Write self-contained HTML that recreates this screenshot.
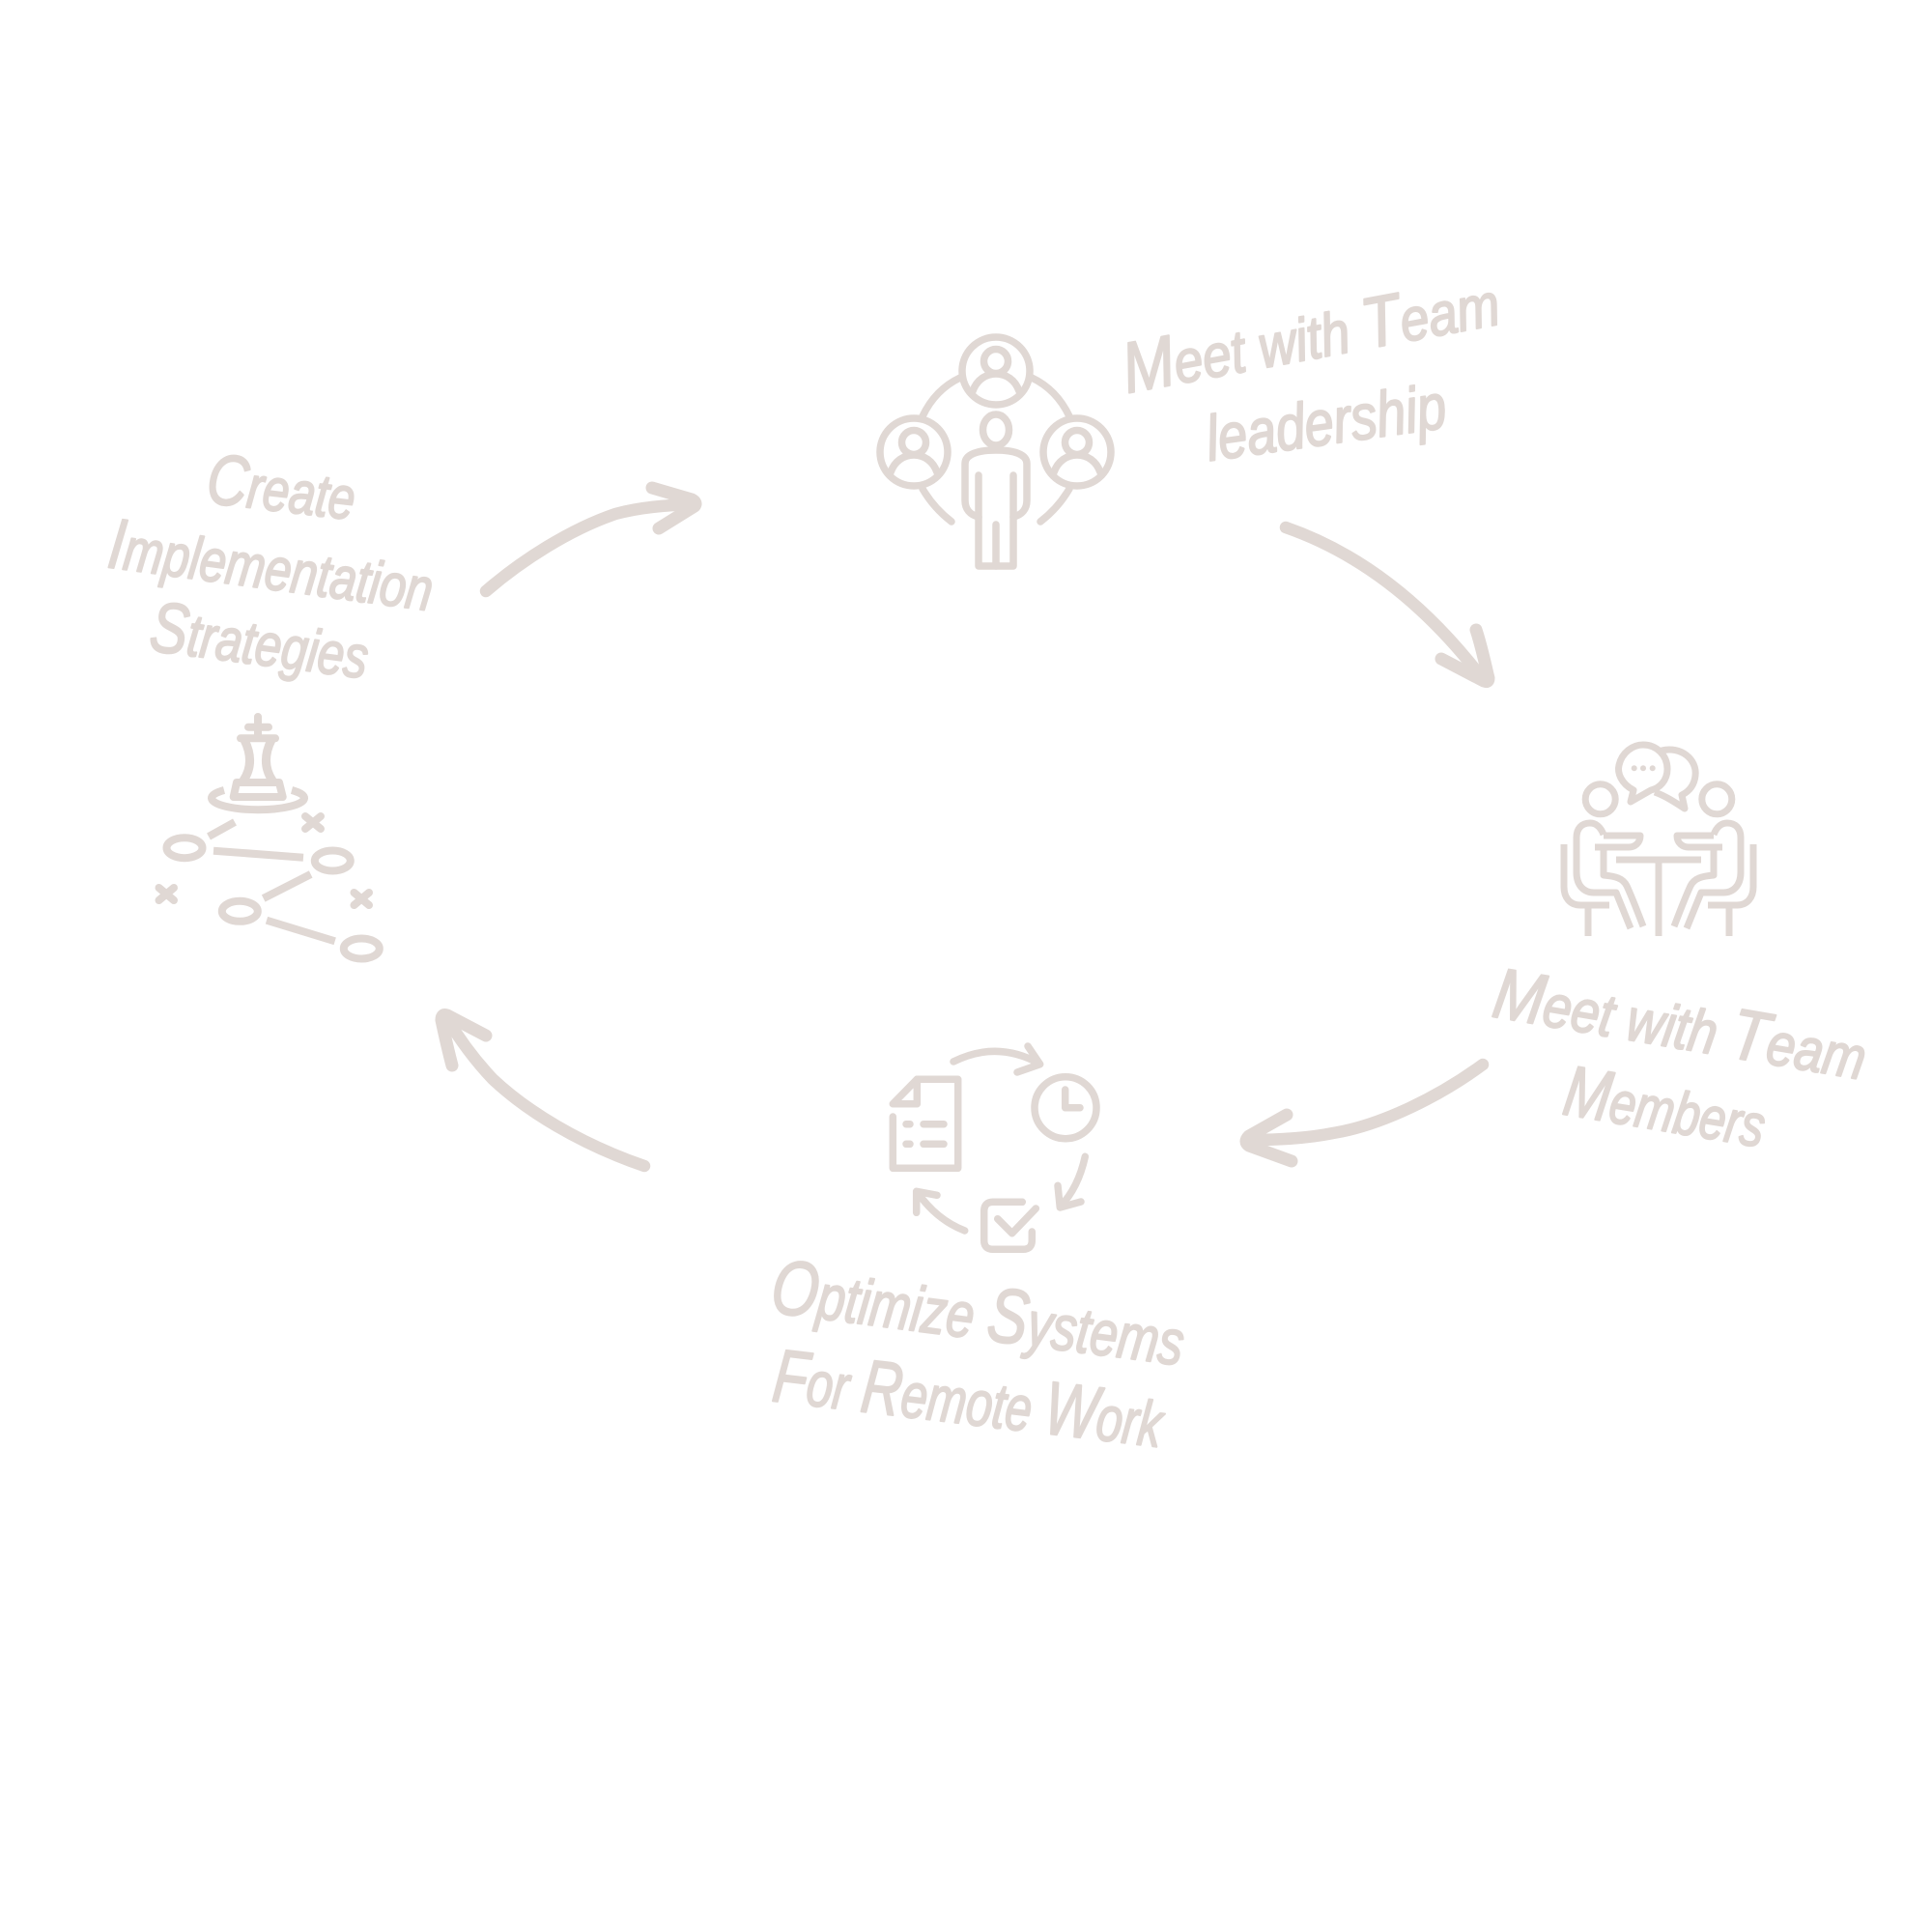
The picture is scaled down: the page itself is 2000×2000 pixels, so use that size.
<!DOCTYPE html>
<html><head><meta charset="utf-8"><style>
html,body{margin:0;padding:0;background:#fff;width:2000px;height:2000px;overflow:hidden}
svg{display:block}
text{font-family:"Liberation Sans",sans-serif;font-style:italic;fill:#e0d8d4;stroke:#e0d8d4;stroke-width:2;stroke-linejoin:round}
tspan.c{font-size:74px}
.i{fill:none;stroke:#e0d8d4;stroke-linecap:round;stroke-linejoin:round}
</style></head><body>
<svg width="2000" height="2000" viewBox="0 0 2000 2000" xmlns="http://www.w3.org/2000/svg">
<rect width="2000" height="2000" fill="#fff"/>

<!-- main arrows -->
<g class="i" stroke-width="12.5">
<path d="M503,612 C540,580 590,548 637,532 C663,525 690,523 717,522"/>
<path d="M675,505 L716,517 Q722,520 719,524 L682,547" stroke-width="13"/>
<path d="M1331,546 C1400,570 1470,618 1535,703"/>
<path d="M1528,652 C1534,670 1538,690 1541,702 Q1541,707 1536,705 L1492,682" stroke-width="13"/>
<path d="M1535,1102 C1490,1135 1430,1165 1380,1173 C1350,1179 1320,1180 1292,1180"/>
<path d="M1332,1154 L1293,1176 Q1287,1182 1293,1186 L1337,1202" stroke-width="13"/>
<path d="M667,1207 C600,1184 545,1150 510,1117 C492,1098 475,1075 462,1053"/>
<path d="M468,1103 C464,1088 460,1070 457,1056 Q457,1049 463,1051 L503,1072" stroke-width="13"/>
</g>

<!-- icon 1 -->
<g class="i" stroke-width="7.5">
<circle cx="1031" cy="384" r="35"/>
<circle cx="946" cy="468" r="35"/>
<circle cx="1115" cy="468" r="35"/>
<circle cx="1031" cy="374" r="12.5"/>
<circle cx="946" cy="458" r="12.5"/>
<circle cx="1115" cy="458" r="12.5"/>
<path d="M1007,405 C1011,393 1021,387 1031,387 C1041,387 1051,393 1055,405"/>
<path d="M922,489 C926,477 936,471 946,471 C956,471 966,477 970,489"/>
<path d="M1091,489 C1095,477 1105,471 1115,471 C1125,471 1135,477 1139,489"/>
<path d="M955,431 C964,412 977,399 994,391 M1107,431 C1098,412 1085,399 1068,391"/>
<path d="M955,506 C962,518 972,530 985,540 M1107,506 C1100,518 1090,530 1077,540"/>
<ellipse cx="1031" cy="445" rx="13.5" ry="16"/>
<path d="M1013,535 C1004,533 999,527 999,518 L999,480 C999,470 1013,466 1031,466 C1049,466 1063,470 1063,480 L1063,518 C1063,527 1058,533 1049,535"/>
<path d="M1013,492 L1013,586 L1049,586 L1049,492"/>
<path d="M1031,543 L1031,586"/>
</g>

<!-- icon 2 -->
<g fill="none" stroke="#e0d8d4" stroke-width="7" stroke-linejoin="round">
<circle cx="1656.7" cy="827.3" r="15.5"/>
<circle cx="1777.3" cy="827.3" r="15.5"/>
<path d="M1691,818 C1678,811 1674,800 1676,792 C1679,779 1690,771 1701,771 C1715,771 1726,782 1726,796 C1726,808 1718,816 1709,818 L1688,830 Z"/>
<path d="M1720,777 C1740,772 1757,786 1755,803 C1754,812 1749,819 1741,823 L1744,837 C1733,830 1724,824 1713,820"/>
<circle cx="1691.7" cy="795.3" r="3" fill="#e0d8d4" stroke="none"/>
<circle cx="1701" cy="795.3" r="3" fill="#e0d8d4" stroke="none"/>
<circle cx="1710.7" cy="795.3" r="3" fill="#e0d8d4" stroke="none"/>
<g>
<path d="M1660,864 C1657,856 1652,852 1646,852 C1637,852 1632,858 1632,867 L1632,903 C1632,917 1640,924 1650,924 L1673,924 L1688,961"/>
<path d="M1660,865 L1698,865 C1698,873 1692,877 1686,877 L1651,877"/>
<path d="M1660,877 L1660,906 C1672,907 1680,909 1684,917 C1690,930 1696,946 1701,959"/>
<path d="M1619,874 L1619,918 C1619,929 1625,937 1636,937 L1666,937"/>
<path d="M1644,937 L1644,969"/>
</g>
<g transform="translate(3434,0) scale(-1,1)">
<path d="M1660,864 C1657,856 1652,852 1646,852 C1637,852 1632,858 1632,867 L1632,903 C1632,917 1640,924 1650,924 L1673,924 L1688,961"/>
<path d="M1660,865 L1698,865 C1698,873 1692,877 1686,877 L1651,877"/>
<path d="M1660,877 L1660,906 C1672,907 1680,909 1684,917 C1690,930 1696,946 1701,959"/>
<path d="M1619,874 L1619,918 C1619,929 1625,937 1636,937 L1666,937"/>
<path d="M1644,937 L1644,969"/>
</g>
<path d="M1673,890 L1761,890 M1717,890 L1717,969"/>
</g>

<!-- icon 3 -->
<g class="i" stroke-width="7.5">
<path d="M987,1099 C1015,1085 1045,1084 1076,1101"/>
<path d="M1064,1083 L1076.7,1101.7 L1053,1110"/>
<circle cx="1103" cy="1146.7" r="32"/>
<path d="M1102.7,1128 L1102.7,1146.7 L1118,1146.7"/>
<path d="M1123.3,1197.3 C1119,1217 1111,1235 1097.5,1249"/>
<path d="M1095,1227.3 L1097.3,1250 L1119,1244"/>
<path d="M998.7,1274 C978,1266 962,1252 949.5,1234"/>
<path d="M948.7,1255.3 L948.7,1233.3 L970,1237.3"/>
<path d="M949.3,1117.3 L991.7,1117.3 L991.7,1209.3 L924.3,1209.3 L924.3,1156"/>
<path d="M949.3,1117.3 L949.3,1142.7 L924.3,1142.7 Z"/>
<path d="M938,1163.7 L942,1163.7 M956,1163.7 L977,1163.7 M938,1184.3 L942,1184.3 M956,1184.3 L977,1184.3"/>
<path d="M1058.3,1244.3 L1028,1244.3 Q1018.7,1244.3 1018.7,1254 L1018.7,1284 Q1018.7,1293.3 1028,1293.3 L1059,1293.3 Q1068.3,1293.3 1068.3,1284 L1068.3,1275"/>
<path d="M1032.7,1261.7 L1047.7,1276.7 L1072.3,1251"/>
</g>

<!-- icon 4 -->
<g fill="none" stroke="#e0d8d4" stroke-width="8" stroke-linejoin="round">
<g stroke-linecap="round">
<path d="M267,742 L267,761 M257,752.7 L278,752.7"/>
<path d="M249,764.3 L285,764.3"/>
<path d="M253,766 C261,782 260,796 252,808 M281,766 C273,782 274,796 282,808" stroke-width="9"/>
<path d="M245,810 L289,810 L292.7,825 L241.7,825 Z"/>
<path d="M316,845 L332,858 M316,858 L332,845"/>
<path d="M164.5,919 L180,932 M164.5,932 L180,919"/>
<path d="M366.5,924 L382,937 M366.5,937 L382,924"/>
</g>
<path d="M232,818 A48 12 0 1 0 302,818" stroke-width="8"/>
<path d="M216,866 L243,851 M221,880.7 L314,887.7 M272.7,930 L321.7,905 M276,952.7 L346.7,974.3"/>
<ellipse cx="191" cy="877.7" rx="18.5" ry="10.5"/>
<ellipse cx="344.3" cy="891" rx="18.5" ry="10.5"/>
<ellipse cx="248.3" cy="943.3" rx="18.5" ry="10.5"/>
<ellipse cx="374.3" cy="982" rx="18.5" ry="10.5"/>
</g>

<!-- labels -->
<text font-size="62" transform="translate(1167,407) rotate(-10.5)" textLength="395" lengthAdjust="spacingAndGlyphs"><tspan class="c">M</tspan>eet with <tspan class="c">T</tspan>eam</text>
<text font-size="66" transform="translate(1252,477) rotate(-8)" textLength="250" lengthAdjust="spacingAndGlyphs">leadership</text>
<text font-size="62" transform="translate(1543,1052) rotate(9.7)" textLength="390" lengthAdjust="spacingAndGlyphs"><tspan class="c">M</tspan>eet with <tspan class="c">T</tspan>eam</text>
<text font-size="62" transform="translate(1616,1153) rotate(9.5)" textLength="210" lengthAdjust="spacingAndGlyphs"><tspan class="c">M</tspan>embers</text>
<text font-size="66" transform="translate(796,1358) rotate(7.4)" textLength="430" lengthAdjust="spacingAndGlyphs"><tspan class="c" style="font-size:80px">O</tspan>ptimize <tspan class="c" style="font-size:80px">S</tspan>ystems</text>
<text font-size="66" transform="translate(798,1450) rotate(6.8)" textLength="405" lengthAdjust="spacingAndGlyphs"><tspan class="c" style="font-size:78px">F</tspan>or <tspan class="c" style="font-size:78px">R</tspan>emote <tspan class="c" style="font-size:78px">W</tspan>ork</text>
<text font-size="62" transform="translate(212,520) rotate(6.7)" textLength="154" lengthAdjust="spacingAndGlyphs"><tspan class="c">C</tspan>reate</text>
<text font-size="62" transform="translate(110,587) rotate(7.7)" textLength="338" lengthAdjust="spacingAndGlyphs"><tspan class="c">I</tspan>mplementation</text>
<text font-size="62" transform="translate(153,673) rotate(7.4)" textLength="227" lengthAdjust="spacingAndGlyphs"><tspan class="c">S</tspan>trategies</text>
</svg>
</body></html>
